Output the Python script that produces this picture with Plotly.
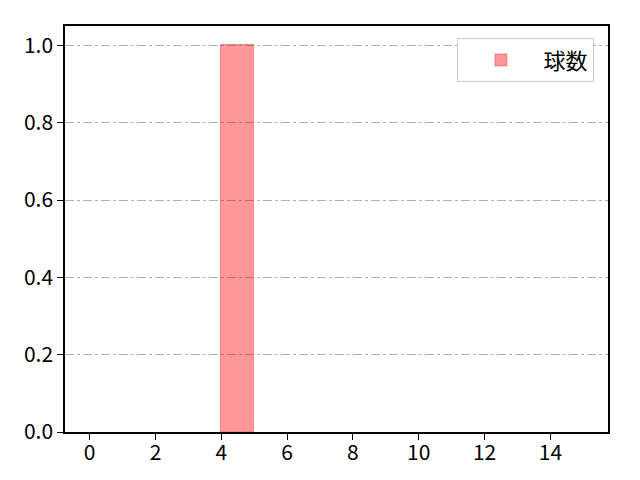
import plotly.graph_objects as go

# histogram bins (left edges) and counts
bin_edges = list(range(0, 15))
counts = [0, 0, 0, 0, 1, 0, 0, 0, 0, 0, 0, 0, 0, 0, 0]
series_name = "球数"
x_ticks = [0, 2, 4, 6, 8, 10, 12, 14]
y_ticks = [0.0, 0.2, 0.4, 0.6, 0.8, 1.0]

# only draw the non-empty bins
centers = [b + 0.5 for b, c in zip(bin_edges, counts) if c > 0]
heights = [c for c in counts if c > 0]

fig = go.Figure()
fig.add_trace(go.Bar(
    x=centers, y=heights, width=1, name=series_name,
    marker=dict(color="rgba(255,0,0,0.4)", line=dict(color="rgba(230,60,60,0.5)", width=1)),
    showlegend=True,
))

# page body has an 8px margin, so the figure is a bit smaller than the window
fig.update_layout(
    width=624, height=464,
    margin=dict(l=57, r=24, t=18, b=40),
    plot_bgcolor="white", paper_bgcolor="white",
    font=dict(family="Noto Sans CJK JP, DejaVu Sans", size=21, color="black"),
    bargap=0,
    legend=dict(x=0.975, y=0.97, xanchor="right", yanchor="top",
                bordercolor="#cccccc", borderwidth=1, bgcolor="white",
                itemwidth=75, font=dict(size=22)),
)
fig.update_xaxes(range=[-0.75, 15.75], tickvals=x_ticks, showgrid=False, automargin=False,
                 showline=True, linecolor="black", linewidth=1.5, mirror=True,
                 ticks="outside", ticklen=6, tickcolor="black", zeroline=False,
                 ticklabelstandoff=-5)
fig.update_yaxes(range=[0, 1.05], tickvals=y_ticks, tickformat=".1f", automargin=False,
                 showgrid=True, gridcolor="#b0b0b0", griddash="dashdot", gridwidth=1,
                 showline=True, linecolor="black", linewidth=1.5, mirror=True,
                 ticks="outside", ticklen=6, tickcolor="black", zeroline=False)

fig.write_html("out.html")
